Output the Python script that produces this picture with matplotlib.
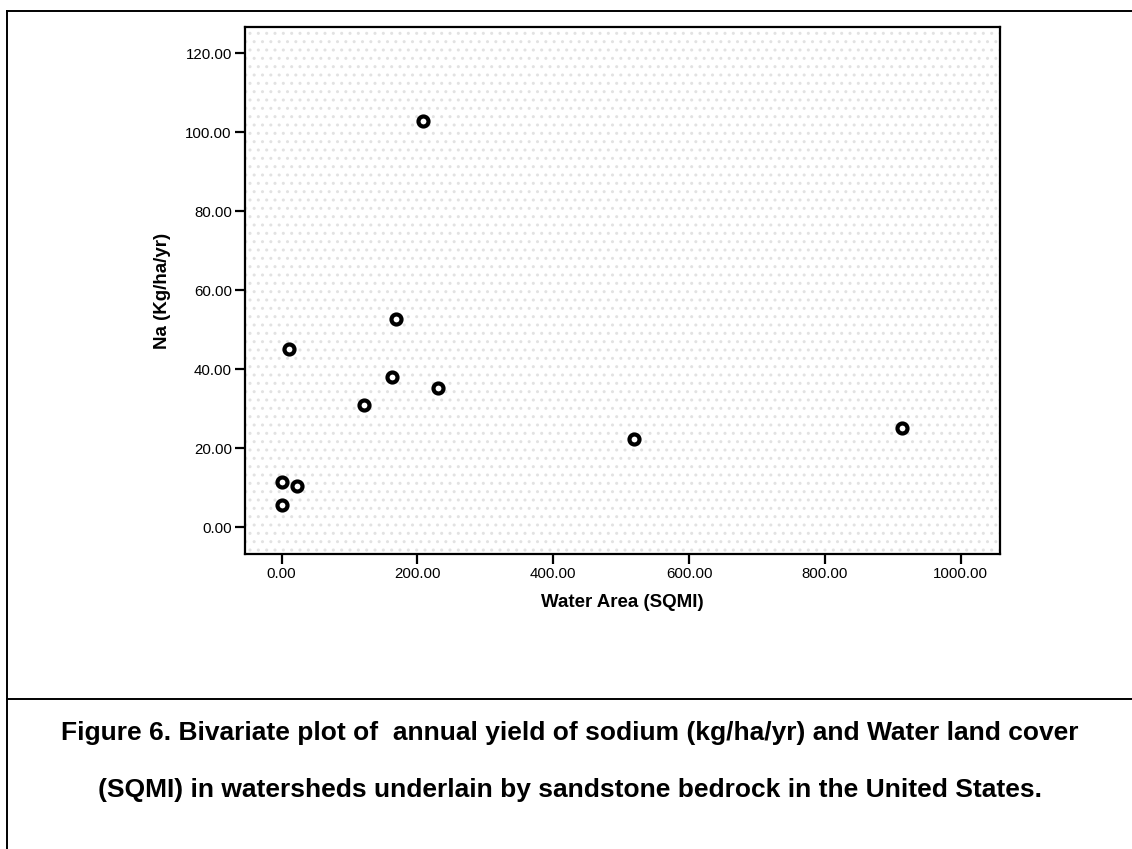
import matplotlib
matplotlib.use('Agg')
import matplotlib.pyplot as plt
from matplotlib.lines import Line2D
from matplotlib.patches import Rectangle

plt.rcParams['font.family'] = ['Liberation Sans', 'DejaVu Sans']

# water area (SQMI) vs sodium yield (kg/ha/yr)
water_area = [0.0, 0.0, 23.0, 11.2, 121.2, 162.4, 168.3, 208.5, 230.6, 519.3, 913.5]
sodium = [5.6, 11.3, 10.5, 45.2, 30.9, 37.9, 52.7, 102.8, 35.2, 22.3, 25.2]

x_ticks = [0, 200, 400, 600, 800, 1000]
y_ticks = [0, 20, 40, 60, 80, 100, 120]

caption_1 = "Figure 6. Bivariate plot of  annual yield of sodium (kg/ha/yr) and Water land cover"
caption_2 = "(SQMI) in watersheds underlain by sandstone bedrock in the United States."

fig = plt.figure(figsize=(11.32, 8.49), dpi=100)
ax = fig.add_axes([245 / 1132, 1 - 554 / 849, 755 / 1132, 527 / 849])

# scanned stipple look
ax.add_patch(Rectangle((0, 0), 1, 1, transform=ax.transAxes, facecolor='white',
                       edgecolor='#e2e2e2', hatch='..', linewidth=0, zorder=0))

ax.scatter(water_area, sodium, s=52, facecolors='white', edgecolors='black',
           linewidths=3.0, zorder=3)

ax.set_xlim(-54, 1058)
ax.set_ylim(-6.8, 126.6)
ax.set_xticks(x_ticks)
ax.set_yticks(y_ticks)
ax.set_xticklabels(['%.2f' % v for v in x_ticks])
ax.set_yticklabels(['%.2f' % v for v in y_ticks])
ax.tick_params(direction='out', length=7, width=1.6, labelsize=10.8, pad=2.5)
for sp in ax.spines.values():
    sp.set_linewidth(1.6)

ax.set_xlabel('Water Area (SQMI)', fontsize=13.5, fontweight='bold', labelpad=9)
ax.set_ylabel('Na (Kg/ha/yr)', fontsize=13.5, fontweight='bold', labelpad=10)

# page border lines
fig.add_artist(Line2D([7 / 1132, 7 / 1132], [0, 1 - 11 / 849], color='black', linewidth=1.4))
fig.add_artist(Line2D([7 / 1132, 1], [1 - 11 / 849, 1 - 11 / 849], color='black', linewidth=1.4))
fig.add_artist(Line2D([7 / 1132, 1], [1 - 699 / 849, 1 - 699 / 849], color='black', linewidth=1.4))

fig.text(570 / 1132, 1 - 733 / 849, caption_1, ha='center', va='center',
         fontsize=19, fontweight='bold')
fig.text(570 / 1132, 1 - 790 / 849, caption_2, ha='center', va='center',
         fontsize=19, fontweight='bold')

fig.savefig('out.png', dpi=100)
